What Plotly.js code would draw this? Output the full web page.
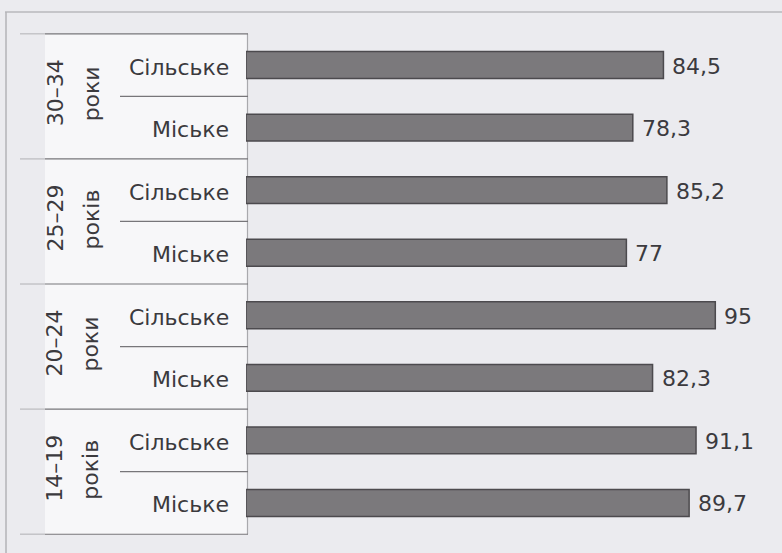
<!DOCTYPE html>
<html>
<head>
<meta charset="utf-8">
<script src="https://cdn.plot.ly/plotly-3.0.1.min.js"></script>
<style>
  html, body { margin: 0; padding: 0; background: #ebebef; }
  #chart { width: 782px; height: 553px; }
</style>
</head>
<body>
<div id="chart"></div>
<script>
// Age groups (top to bottom) and the word printed under each range
const ageGroups = ['30–34', '25–29', '20–24', '14–19'];
const groupWords = ['роки', 'років', 'роки', 'років'];
// Settlement type within each age group
const settlementTypes = ['Сільське', 'Міське'];
// Values, in order: each age group, rural then urban
const values = [84.5, 78.3, 85.2, 77, 95, 82.3, 91.1, 89.7];

const W = 782, H = 553;
const px = v => v / W;

// One unique category per bar
const keys = [];
const typeLabels = [];
ageGroups.forEach(g => settlementTypes.forEach(t => { keys.push(g + ' ' + t); typeLabels.push(t); }));

const fmt = v => String(v).replace('.', ',');
const FONT = 'DejaVu Sans, Arial, sans-serif';
const TEXT = '#3b3a3e';

const trace = {
  type: 'bar',
  orientation: 'h',
  x: values,
  y: keys,
  width: 0.43,
  marker: { color: '#7b797c', line: { color: '#4c4a4e', width: 1.5 } },
  hoverinfo: 'skip'
};

const annotations = [];
// value labels
values.forEach((v, i) => annotations.push({
  x: v, y: keys[i], xref: 'x', yref: 'y', text: fmt(v), showarrow: false,
  xanchor: 'left', xshift: 7, yshift: -1, font: { family: FONT, size: 22, color: TEXT }
}));
// settlement type labels
typeLabels.forEach((t, i) => annotations.push({
  x: px(231), y: keys[i], xref: 'paper', yref: 'y', text: t, showarrow: false,
  xanchor: 'right', yshift: -2, font: { family: FONT, size: 22, color: TEXT }
}));
// rotated age group labels
ageGroups.forEach((g, i) => {
  const yc = 2 * i + 0.5;
  annotations.push({
    x: px(55), y: yc, xref: 'paper', yref: 'y', text: g, showarrow: false,
    textangle: -90, xanchor: 'center', yanchor: 'middle', yshift: 3,
    font: { family: FONT, size: 22, color: TEXT }
  });
  annotations.push({
    x: px(91), y: yc, xref: 'paper', yref: 'y', text: groupWords[i], showarrow: false,
    textangle: -90, xanchor: 'center', yanchor: 'middle', yshift: 2,
    font: { family: FONT, size: 22, color: TEXT }
  });
});

const shapes = [];
// outer page frame
shapes.push({ type: 'line', xref: 'paper', yref: 'paper', x0: px(5), x1: 1, y0: 1 - 12 / H, y1: 1 - 12 / H,
  line: { color: '#b9b9bd', width: 1.5 }, layer: 'below' });
shapes.push({ type: 'line', xref: 'paper', yref: 'paper', x0: px(6), x1: px(6), y0: 0, y1: 1 - 12 / H,
  line: { color: '#b3b3b7', width: 1.5 }, layer: 'below' });
// label panel
shapes.push({ type: 'rect', xref: 'paper', yref: 'y', x0: px(45), x1: px(248), y0: -0.5, y1: keys.length - 0.5,
  fillcolor: '#f7f7f9', line: { width: 0 }, layer: 'below' });
shapes.push({ type: 'line', xref: 'paper', yref: 'y', x0: px(247.5), x1: px(247.5), y0: -0.5, y1: keys.length - 0.5,
  line: { color: '#a9a9ad', width: 1.2 }, layer: 'below' });
// separators between age groups
for (let i = 0; i <= ageGroups.length; i++) {
  const y = 2 * i - 0.5;
  shapes.push({ type: 'line', xref: 'paper', yref: 'y', x0: px(20), x1: px(45), y0: y, y1: y,
    line: { color: '#c4c4c8', width: 1.5 }, layer: 'below' });
  shapes.push({ type: 'line', xref: 'paper', yref: 'y', x0: px(45), x1: px(248), y0: y, y1: y,
    line: { color: '#77767a', width: 1.2 }, layer: 'below' });
}
// separators between settlement types
for (let i = 0; i < ageGroups.length; i++) {
  const y = 2 * i + 0.5;
  shapes.push({ type: 'line', xref: 'paper', yref: 'y', x0: px(120), x1: px(248), y0: y, y1: y,
    line: { color: '#77767a', width: 1.2 }, layer: 'below' });
}

const layout = {
  width: W, height: H,
  margin: { l: 0, r: 0, t: 0, b: 0 },
  paper_bgcolor: '#ebebef',
  plot_bgcolor: 'rgba(0,0,0,0)',
  showlegend: false,
  xaxis: { domain: [px(246), 1], range: [0, (W - 246) / 4.94], visible: false, fixedrange: true },
  yaxis: { type: 'category', categoryorder: 'array', categoryarray: keys,
           range: [7.8, -1.04], visible: false, fixedrange: true },
  annotations: annotations,
  shapes: shapes
};

Plotly.newPlot('chart', [trace], layout, { displayModeBar: false, staticPlot: true });
</script>
</body>
</html>
